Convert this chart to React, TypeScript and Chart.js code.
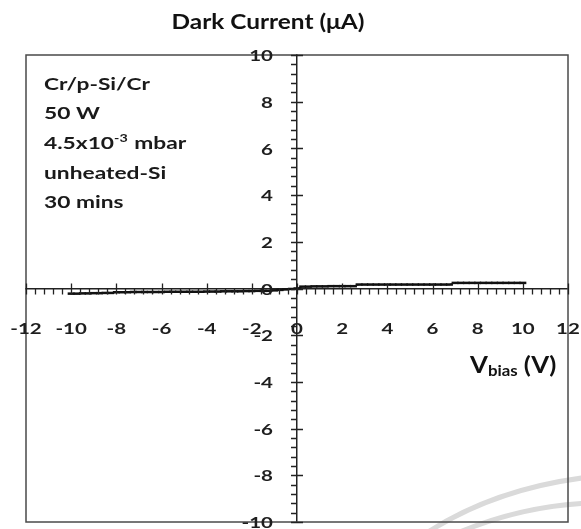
import { useEffect, useRef } from 'react';
import { Chart, registerables } from 'chart.js';
Chart.register(...registerables);

const biasV = [
  -10, -9.75, -9.5, -9.25, -9, -8.75, -8.5, -8.25,
  -8, -7.75, -7.5, -7.25, -7, -6.75, -6.5, -6.25, -6, -5.75, -5.5, -5.25, -5, -4.75, -4.5, -4.25,
  -4, -3.75, -3.5, -3.25, -3, -2.75, -2.5, -2.25, -2, -1.75, -1.5, -1.25,
  -1, -0.75, -0.5, -0.25,
  0,
  0.25, 0.5, 0.75, 1, 1.25, 1.5, 1.75, 2, 2.25, 2.5,
  2.75, 3, 3.25, 3.5, 3.75, 4, 4.25, 4.5, 4.75, 5, 5.25, 5.5, 5.75, 6, 6.25, 6.5, 6.75,
  7, 7.25, 7.5, 7.75, 8, 8.25, 8.5, 8.75, 9, 9.25, 9.5, 9.75, 10,
];
const darkCurrent = [
  -0.22, -0.22, -0.21, -0.21, -0.2, -0.2, -0.19, -0.19,
  -0.16, -0.16, -0.16, -0.15, -0.15, -0.15, -0.15, -0.15, -0.15, -0.14, -0.14, -0.14, -0.14, -0.14, -0.14, -0.14,
  -0.13, -0.13, -0.13, -0.12, -0.12, -0.12, -0.12, -0.11, -0.11, -0.1, -0.1, -0.1,
  -0.08, -0.06, -0.04, -0.02,
  0,
  0.08, 0.08, 0.09, 0.09, 0.09, 0.1, 0.1, 0.1, 0.1, 0.1,
  0.17, 0.17, 0.17, 0.17, 0.17, 0.17, 0.17, 0.17, 0.17, 0.17, 0.17, 0.17, 0.17, 0.17, 0.17, 0.17, 0.17,
  0.24, 0.24, 0.24, 0.24, 0.24, 0.24, 0.24, 0.24, 0.24, 0.24, 0.24, 0.24, 0.24,
];
const xRange = [-12, 12];
const yRange = [-10, 10];
const majorStep = 2;
const minorDivisions = 5;
const titleText = 'Dark Current (\u03BCA)';
const xAxisMain = 'V';
const xAxisSub = 'bias';
const xAxisTail = ' (V)';
const infoLines: string[][] = [
  ['Cr/p-Si/Cr'],
  ['50 W'],
  ['4.5x10', '-3', ' mbar'],
  ['unheated-Si'],
  ['30 mins'],
];

const FONT = 'Lato, "Open Sans", sans-serif';

// draw text stretched horizontally (the source image is wider than the font)
function stretchText(ctx: CanvasRenderingContext2D, text: string, x: number, y: number, sx: number) {
  ctx.save();
  ctx.translate(x, y);
  ctx.scale(sx, 1);
  ctx.fillText(text, 0, 0);
  ctx.restore();
  return ctx.measureText(text).width * sx;
}

const decorPlugin = {
  id: 'decor',
  beforeDraw(chart: any) {
    const { ctx, width, height } = chart;
    ctx.save();
    ctx.fillStyle = '#ffffff';
    ctx.fillRect(0, 0, width, height);
    ctx.strokeStyle = '#dadada';
    ctx.lineWidth = 5;
    ctx.beginPath();
    ctx.moveTo(425, 534);
    ctx.quadraticCurveTo(495, 488, 590, 477);
    ctx.stroke();
    ctx.beginPath();
    ctx.moveTo(455, 534);
    ctx.quadraticCurveTo(520, 506, 590, 503);
    ctx.stroke();
    ctx.restore();
  },
  afterDraw(chart: any) {
    const { ctx, chartArea } = chart;
    const xs = chart.scales.x;
    const ys = chart.scales.y;
    const x0 = xs.getPixelForValue(0);
    const y0 = ys.getPixelForValue(0);
    ctx.save();
    // plot box
    ctx.strokeStyle = '#4a4a4a';
    ctx.lineWidth = 1.5;
    ctx.strokeRect(chartArea.left, chartArea.top, chartArea.right - chartArea.left, chartArea.bottom - chartArea.top);
    // tick marks
    ctx.strokeStyle = '#222';
    ctx.lineWidth = 1.3;
    const minor = majorStep / minorDivisions;
    ctx.beginPath();
    const nx = Math.round((xRange[1] - xRange[0]) / minor);
    for (let i = 0; i <= nx; i++) {
      const v = xRange[0] + i * minor;
      const px = Math.round(xs.getPixelForValue(v)) + 0.5;
      const major = i % minorDivisions === 0;
      ctx.moveTo(px, major ? y0 - 5 : y0);
      ctx.lineTo(px, y0 + 6);
    }
    const ny = Math.round((yRange[1] - yRange[0]) / minor);
    for (let i = 0; i <= ny; i++) {
      const v = yRange[0] + i * minor;
      const py = Math.round(ys.getPixelForValue(v)) + 0.5;
      const major = i % minorDivisions === 0;
      ctx.moveTo(x0 - 6, py);
      ctx.lineTo(major ? x0 + 6 : x0, py);
    }
    ctx.stroke();

    // tick labels from the library's ticks
    ctx.fillStyle = '#1e1e1e';
    ctx.font = `bold 16px ${FONT}`;
    ctx.textBaseline = 'middle';
    const tsx = 1.28;
    xs.ticks.forEach((t: any) => {
      const label = String(t.value);
      const w = ctx.measureText(label).width * tsx;
      stretchText(ctx, label, xs.getPixelForValue(t.value) - w / 2, 329, tsx);
    });
    ys.ticks.forEach((t: any) => {
      const label = String(t.value);
      const w = ctx.measureText(label).width * tsx;
      stretchText(ctx, label, x0 - 24 - w, ys.getPixelForValue(t.value) + 1, tsx);
    });

    // title
    ctx.fillStyle = '#111';
    ctx.font = `bold 20px ${FONT}`;
    {
      const sx = 1.22;
      const w = ctx.measureText(titleText).width * sx;
      stretchText(ctx, titleText, 268 - w / 2, 23, sx);
    }

    // info text
    ctx.fillStyle = '#1a1a1a';
    ctx.textBaseline = 'middle';
    infoLines.forEach((parts, li) => {
      let x = 44;
      const y = 84 + li * 29.7;
      parts.forEach((p, pi) => {
        const sup = parts.length > 1 && pi === 1;
        ctx.font = `bold ${sup ? 11 : 17.5}px ${FONT}`;
        x += stretchText(ctx, p, x, sup ? y - 5 : y, 1.3) + (sup ? 1 : 0);
      });
    });

    // x axis title
    ctx.fillStyle = '#111';
    ctx.textBaseline = 'alphabetic';
    let tx = 470;
    const base = 373;
    const vsx = 1.12;
    ctx.font = `bold 23px ${FONT}`;
    tx += stretchText(ctx, xAxisMain, tx, base, vsx);
    ctx.font = `bold 15px ${FONT}`;
    tx += stretchText(ctx, xAxisSub, tx, base + 3, vsx);
    ctx.font = `bold 23px ${FONT}`;
    stretchText(ctx, xAxisTail, tx, base, vsx);
    ctx.restore();
  },
};

export default function App() {
  const ref = useRef<HTMLCanvasElement | null>(null);
  useEffect(() => {
    document.body.style.margin = '0';
    const canvas = ref.current!;
    const zeroPad = (s: any) => {
      s.paddingLeft = 0;
      s.paddingRight = 0;
      s.paddingTop = 0;
      s.paddingBottom = 0;
    };
    const chart = new Chart(canvas, {
      type: 'scatter',
      data: {
        datasets: [
          {
            data: biasV.map((v, i) => ({ x: v, y: darkCurrent[i] })),
            showLine: true,
            borderColor: '#111',
            borderWidth: 1.3,
            pointStyle: 'line',
            pointRadius: 3.5,
            pointBorderWidth: 2.5,
            pointBorderColor: '#111',
            pointBackgroundColor: '#111',
          },
        ],
      },
      options: {
        responsive: false,
        animation: false,
        events: [],
        layout: { padding: { left: 26, right: 13, top: 55, bottom: 7 } },
        plugins: {
          legend: { display: false },
          tooltip: { enabled: false },
          title: { display: false },
        },
        scales: {
          x: {
            type: 'linear',
            min: xRange[0],
            max: xRange[1],
            position: { y: 0 },
            grid: { display: false, drawTicks: false },
            border: { display: true, color: '#222', width: 1.5 },
            ticks: { stepSize: majorStep, display: false },
            afterFit: zeroPad,
          },
          y: {
            type: 'linear',
            min: yRange[0],
            max: yRange[1],
            position: { x: 0 },
            grid: { display: false, drawTicks: false },
            border: { display: true, color: '#222', width: 1.5 },
            ticks: { stepSize: majorStep, display: false },
            afterFit: zeroPad,
          },
        },
      },
      plugins: [decorPlugin],
    });
    return () => chart.destroy();
  }, []);
  return <canvas ref={ref} width={581} height={529} style={{ display: 'block' }} />;
}
